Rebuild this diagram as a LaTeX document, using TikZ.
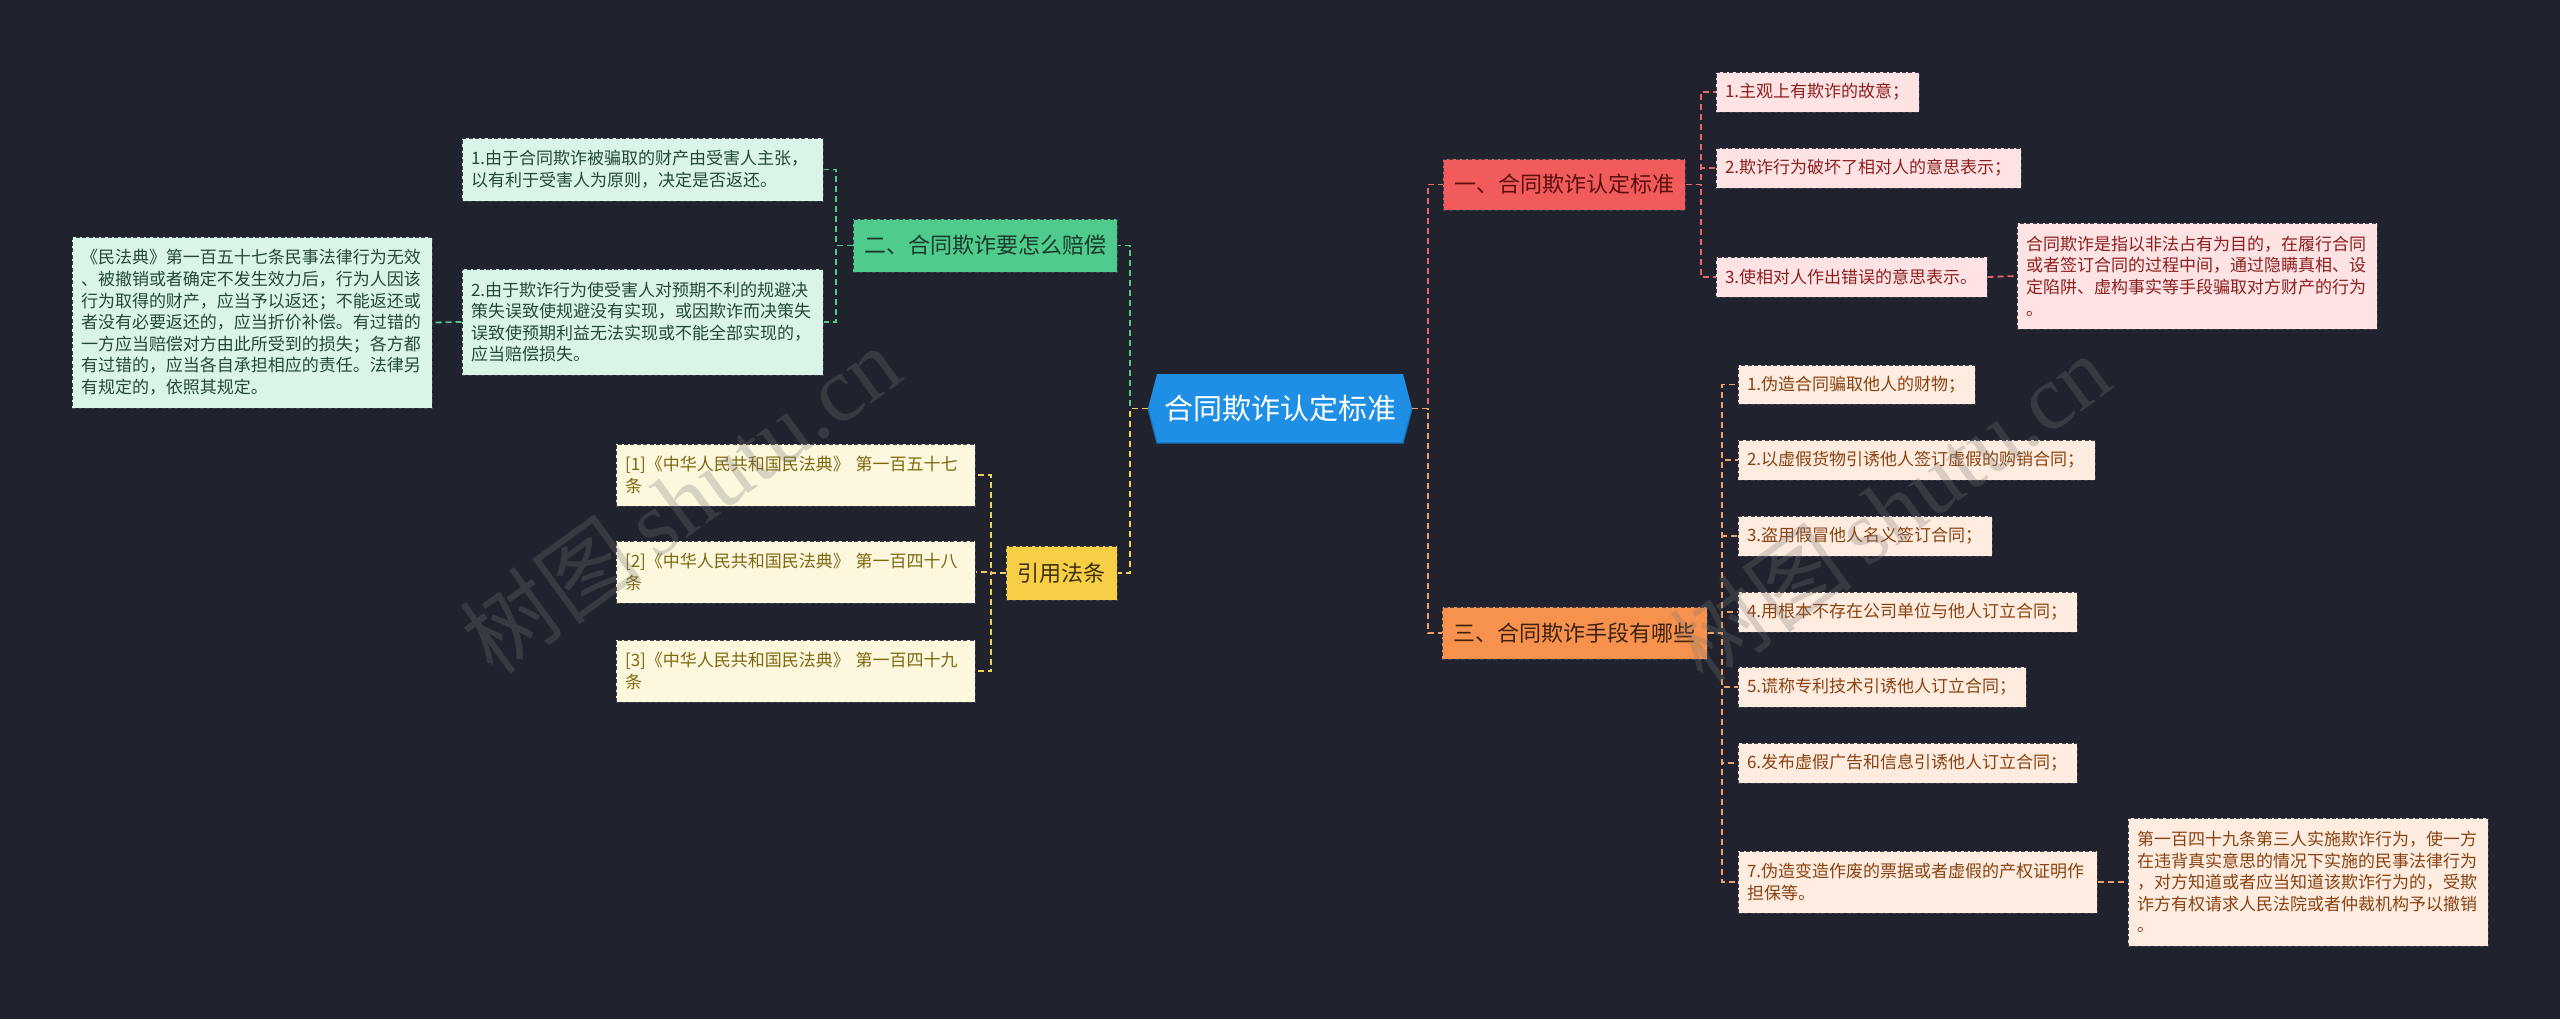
\documentclass[tikz,border=0pt]{standalone}
\usepackage{fontspec}
\setmainfont{Noto Sans CJK SC}
\newfontfamily\wmfont{Liberation Serif}
\definecolor{bgc}{HTML}{20232D}
\definecolor{cblue}{HTML}{1F8FE5}
\definecolor{cbluedk}{HTML}{1670BD}
\definecolor{gbr}{HTML}{4FCB8E}
\definecolor{gbrtext}{HTML}{1B3A2A}
\definecolor{gleaf}{HTML}{DAF5E8}
\definecolor{gtext}{HTML}{244A37}
\definecolor{gln}{HTML}{4FCB8E}
\definecolor{rbr}{HTML}{F25B5B}
\definecolor{rbrtext}{HTML}{5C0E0E}
\definecolor{rleaf}{HTML}{FDE3E3}
\definecolor{rtext}{HTML}{8E1F1F}
\definecolor{rln}{HTML}{E8686A}
\definecolor{obr}{HTML}{F7924E}
\definecolor{obrtext}{HTML}{3E220C}
\definecolor{oleaf}{HTML}{FDECDF}
\definecolor{otext}{HTML}{8A4212}
\definecolor{oln}{HTML}{F0A062}
\definecolor{ybr}{HTML}{F7CF47}
\definecolor{ybrtext}{HTML}{3D300A}
\definecolor{yleaf}{HTML}{FDF7DE}
\definecolor{ytext}{HTML}{7E6810}
\definecolor{yln}{HTML}{F2CF58}
\definecolor{boxln}{HTML}{3C404B}
\definecolor{wmc}{HTML}{777777}
\tikzset{
  boxbase/.style={draw=boxln, dash pattern=on 2pt off 1.2pt, line width=0.5pt, inner ysep=0pt},
  leafbase/.style={boxbase, inner xsep=4.5pt, align=left, font=\fontsize{8.5}{10.8}\selectfont},
  branchbase/.style={boxbase, inner xsep=4pt, align=center, font=\fontsize{11}{13}\selectfont},
  gleafbox/.style={leafbase, fill=gleaf, text=gtext},
  rleafbox/.style={leafbase, fill=rleaf, text=rtext},
  oleafbox/.style={leafbase, fill=oleaf, text=otext},
  yleafbox/.style={leafbase, fill=yleaf, text=ytext},
  gbranch/.style={branchbase, fill=gbr, text=gbrtext},
  rbranch/.style={branchbase, fill=rbr, text=rbrtext},
  obranch/.style={branchbase, fill=obr, text=obrtext},
  ybranch/.style={branchbase, fill=ybr, text=ybrtext},
  conn/.style={line width=0.9pt, dash pattern=on 3pt off 2pt},
  gconn/.style={conn, draw=gln},
  rconn/.style={conn, draw=rln},
  oconn/.style={conn, draw=oln},
  yconn/.style={conn, draw=yln},
  wmark/.style={text=wmc, text opacity=0.28, font=\fontsize{46}{50}\selectfont, inner sep=0pt},
}
\begin{document}
\begin{tikzpicture}[x=0.5pt,y=-0.5pt]
\fill[bgc] (0,0) rectangle (2560,1019);
\useasboundingbox (0,0) rectangle (2560,1019);

% centre
\fill[cblue] (1148,408.5) -- (1157,374) -- (1403,374) -- (1412,408.5) -- (1403,443) -- (1157,443) -- cycle;
\draw[cbluedk, line width=0.6pt] (1148,408.5) -- (1157,443) -- (1403,443) -- (1412,408.5);
\node[text=white, font=\fontsize{14.5}{16}\selectfont, minimum width=132pt, minimum height=34.5pt, inner sep=0pt] (c) at (1280,408.5) {合同欺诈认定标准};
\coordinate (jl) at (1130,408.5);
\coordinate (jr) at (1428,408.5);

% branches
\node[gbranch, minimum width=132pt, minimum height=26.5pt] (b2) at (985,245.5) {二、合同欺诈要怎么赔偿};
\node[ybranch, minimum width=55.5pt, minimum height=27pt] (b4) at (1061.5,573) {引用法条};
\node[rbranch, minimum width=121pt, minimum height=25.5pt] (b1) at (1564,184.5) {一、合同欺诈认定标准};
\node[obranch, minimum width=132.5pt, minimum height=26pt] (b3) at (1574.5,633) {三、合同欺诈手段有哪些};

% green leaves
\node[gleafbox, minimum width=180.5pt, minimum height=31.5pt, text width=171.5pt] (g1) at (642.5,169.5) {1.由于合同欺诈被骗取的财产由受害人主张，\\以有利于受害人为原则，决定是否返还。};
\node[gleafbox, minimum width=180.5pt, minimum height=53pt, text width=171.5pt] (g2) at (642.5,322) {2.由于欺诈行为使受害人对预期不利的规避决\\策失误致使规避没有实现，或因欺诈而决策失\\误致使预期利益无法实现或不能全部实现的，\\应当赔偿损失。};
\node[gleafbox, minimum width=180pt, minimum height=85.5pt, text width=171pt] (g0) at (252,322.5) {《民法典》第一百五十七条民事法律行为无效\\、被撤销或者确定不发生效力后，行为人因该\\行为取得的财产，应当予以返还；不能返还或\\者没有必要返还的，应当折价补偿。有过错的\\一方应当赔偿对方由此所受到的损失；各方都\\有过错的，应当各自承担相应的责任。法律另\\有规定的，依照其规定。};

% yellow leaves
\node[yleafbox, minimum width=179.5pt, minimum height=31pt, text width=170.5pt] (y1) at (795.5,475) {[1]《中华人民共和国民法典》 第一百五十七\\条};
\node[yleafbox, minimum width=179.5pt, minimum height=31pt, text width=170.5pt] (y2) at (795.5,572) {[2]《中华人民共和国民法典》 第一百四十八\\条};
\node[yleafbox, minimum width=179.5pt, minimum height=31pt, text width=170.5pt] (y3) at (795.5,671) {[3]《中华人民共和国民法典》 第一百四十九\\条};

% red leaves
\node[rleafbox, minimum width=101.5pt, minimum height=20pt, text width=92.5pt] (r1) at (1817.5,92) {1.主观上有欺诈的故意；};
\node[rleafbox, minimum width=152.5pt, minimum height=20pt, text width=143.5pt] (r2) at (1868.5,168) {2.欺诈行为破坏了相对人的意思表示；};
\node[rleafbox, minimum width=135.5pt, minimum height=20pt, text width=126.5pt] (r3) at (1851.5,277) {3.使相对人作出错误的意思表示。};
\node[rleafbox, minimum width=180pt, minimum height=53pt, text width=171pt] (r4) at (2197,276) {合同欺诈是指以非法占有为目的，在履行合同\\或者签订合同的过程中间，通过隐瞒真相、设\\定陷阱、虚构事实等手段骗取对方财产的行为\\。};

% orange leaves
\node[oleafbox, minimum width=118.5pt, minimum height=19.5pt, text width=109.5pt] (o1) at (1856.5,384.5) {1.伪造合同骗取他人的财物；};
\node[oleafbox, minimum width=178.5pt, minimum height=20pt, text width=169.5pt] (o2) at (1916.5,460) {2.以虚假货物引诱他人签订虚假的购销合同；};
\node[oleafbox, minimum width=127pt, minimum height=20pt, text width=118pt] (o3) at (1865,536) {3.盗用假冒他人名义签订合同；};
\node[oleafbox, minimum width=169.5pt, minimum height=20pt, text width=160.5pt] (o4) at (1907.5,612) {4.用根本不存在公司单位与他人订立合同；};
\node[oleafbox, minimum width=144pt, minimum height=20pt, text width=135pt] (o5) at (1882,687) {5.谎称专利技术引诱他人订立合同；};
\node[oleafbox, minimum width=169.5pt, minimum height=20pt, text width=160.5pt] (o6) at (1907.5,763) {6.发布虚假广告和信息引诱他人订立合同；};
\node[oleafbox, minimum width=179.5pt, minimum height=31pt, text width=170.5pt] (o7) at (1917.5,882) {7.伪造变造作废的票据或者虚假的产权证明作\\担保等。};
\node[oleafbox, minimum width=180pt, minimum height=64pt, text width=171pt] (o8) at (2308,882) {第一百四十九条第三人实施欺诈行为，使一方\\在违背真实意思的情况下实施的民事法律行为\\，对方知道或者应当知道该欺诈行为的，受欺\\诈方有权请求人民法院或者仲裁机构予以撤销\\。};

% connectors centre -> branches
\draw[gconn] (c.west) -- (jl) |- (b2.east);
\draw[yconn] (c.west) -- (jl) |- (b4.east);
\draw[rconn] (c.east) -- (jr) |- (b1.west);
\draw[oconn] (c.east) -- (jr) |- (b3.west);

% green
\coordinate (gv) at (836,245.5);
\draw[gconn] (b2.west) -- (gv) |- (g1.east);
\draw[gconn] (b2.west) -- (gv) |- (g2.east);
\draw[gconn] (g2.west) -- (g0.east);

% yellow
\coordinate (yv) at (991,573);
\draw[yconn] (b4.west) -- (yv) |- (y1.east);
\draw[yconn] (b4.west) -- (yv) |- (y2.east);
\draw[yconn] (b4.west) -- (yv) |- (y3.east);

% red
\coordinate (rv) at (1701,184.5);
\draw[rconn] (b1.east) -- (rv) |- (r1.west);
\draw[rconn] (b1.east) -- (rv) |- (r2.west);
\draw[rconn] (b1.east) -- (rv) |- (r3.west);
\draw[rconn] (r3.east) -- (r4.west);

% orange
\coordinate (ov) at (1722,633);
\foreach \n in {o1,o2,o3,o4,o5,o6,o7} {
  \draw[oconn] (b3.east) -- (ov) |- (\n.west);
}
\draw[oconn] (o7.east) -- (o8.west);

% watermarks
\node[wmark, rotate=36] (wm1) at (680,500) {树图\,{\wmfont shutu.cn}};
\node[wmark, rotate=36] (wm2) at (1890,508) {树图\,{\wmfont shutu.cn}};
\end{tikzpicture}
\end{document}
